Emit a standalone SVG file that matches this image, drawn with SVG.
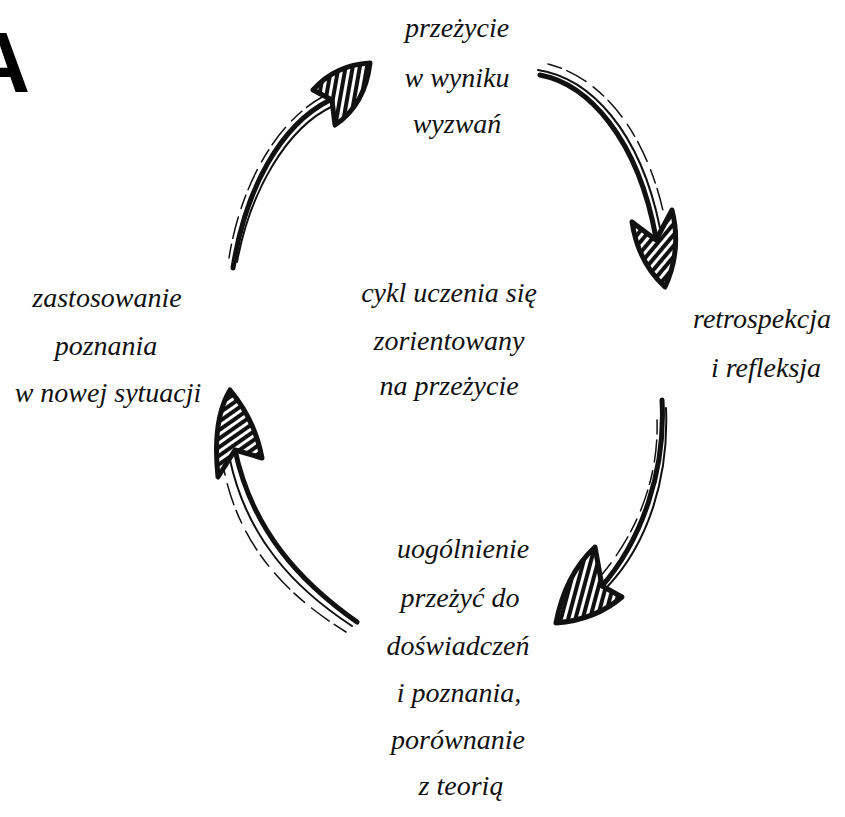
<svg xmlns="http://www.w3.org/2000/svg" width="845" height="817" viewBox="0 0 845 817">
<defs>
<style>
.t{font-family:"Liberation Serif","DejaVu Serif",serif;font-style:italic;font-size:28px;fill:#111;text-anchor:middle}
.sh{fill:none;stroke:#111;stroke-width:5;stroke-linecap:round}
.sh2{fill:none;stroke:#111;stroke-width:2;stroke-linecap:round}
.sh3{fill:none;stroke:#111;stroke-width:1.5;stroke-linecap:round;stroke-dasharray:14 6 22 9}
.hd{stroke:#111;stroke-width:5;stroke-linejoin:round}
</style>
<pattern id="p1" width="7" height="7" patternUnits="userSpaceOnUse" patternTransform="rotate(40)"><rect width="7" height="7" fill="#fff"/><rect width="4" height="7" fill="#111"/></pattern>
<pattern id="p2" width="7" height="7" patternUnits="userSpaceOnUse" patternTransform="rotate(15)"><rect width="7" height="7" fill="#fff"/><rect width="4" height="7" fill="#111"/></pattern>
<pattern id="p3" width="7" height="7" patternUnits="userSpaceOnUse" patternTransform="rotate(55)"><rect width="7" height="7" fill="#fff"/><rect width="4" height="7" fill="#111"/></pattern>
<pattern id="p4" width="7" height="7" patternUnits="userSpaceOnUse" patternTransform="rotate(10)"><rect width="7" height="7" fill="#fff"/><rect width="4" height="7" fill="#111"/></pattern>
</defs>
<rect width="845" height="817" fill="#fff"/>
<text x="-32" y="92" font-family="Liberation Sans,Arial,sans-serif" font-weight="bold" font-size="86" fill="#000">A</text>

<g id="connectors">
<g id="arrow-top-right">
<path class="sh" d="M540,75 C588,84 638,138 656,238"/>
<path class="sh2" d="M538,70 C590,78 640,130 660,228"/>
<path class="sh3" d="M548,64 C596,76 644,124 664,215"/>
<path class="hd" fill="url(#p1)" d="M656,240 L632,222 Q638,262 665,287 Q682,250 672,210 Z"/>
</g>
<g id="arrow-right-bottom">
<path class="sh" d="M662,400 C666,470 642,540 602,586"/>
<path class="sh2" d="M666,408 C669,478 648,543 608,586"/>
<path class="sh3" d="M657,420 C659,480 636,535 599,578"/>
<path class="hd" fill="url(#p2)" d="M602,586 L595,547 Q565,575 556,623 Q595,620 622,597 Z"/>
</g>
<g id="arrow-bottom-left">
<path class="sh" d="M357,622 C300,582 252,530 235,450"/>
<path class="sh2" d="M352,626 C294,588 247,538 230,460"/>
<path class="sh3" d="M346,632 C288,596 240,548 224,470"/>
<path class="hd" fill="url(#p3)" d="M235,450 L218,477 Q212,420 230,390 Q255,420 262,458 Z"/>
</g>
<g id="arrow-left-top">
<path class="sh" d="M233,268 C245,190 280,125 330,100"/>
<path class="sh2" d="M237,262 C250,192 286,128 333,106"/>
<path class="sh3" d="M229,258 C240,188 275,122 324,96"/>
<path class="hd" fill="url(#p4)" d="M332,100 L313,90 Q335,65 370,63 Q365,105 335,125 Z"/>
</g>
</g>

<g id="node-top">
<text class="t" x="457" y="37">przeżycie</text>
<text class="t" x="457" y="87">w wyniku</text>
<text class="t" x="457" y="133">wyzwań</text>
</g>
<g id="node-center">
<text class="t" x="449" y="302">cykl uczenia się</text>
<text class="t" x="449" y="350">zorientowany</text>
<text class="t" x="449" y="395">na przeżycie</text>
</g>
<g id="node-left">
<text class="t" x="107" y="307">zastosowanie</text>
<text class="t" x="106" y="355">poznania</text>
<text class="t" x="108" y="402">w nowej sytuacji</text>
</g>
<g id="node-right">
<text class="t" x="762" y="328">retrospekcja</text>
<text class="t" x="766" y="377">i refleksja</text>
</g>
<g id="node-bottom">
<text class="t" x="463" y="558">uogólnienie</text>
<text class="t" x="460" y="607">przeżyć do</text>
<text class="t" x="458" y="655">doświadczeń</text>
<text class="t" x="459" y="702">i poznania,</text>
<text class="t" x="458" y="749">porównanie</text>
<text class="t" x="461" y="795">z teorią</text>
</g>
</svg>
